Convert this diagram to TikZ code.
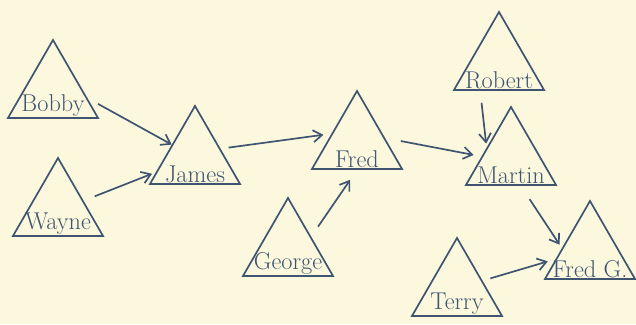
\documentclass[tikz,border=0pt]{standalone}
\usepackage{xcolor}
\usepackage{tikz}
\usetikzlibrary{shapes.geometric, arrows.meta, positioning, backgrounds}
\definecolor{inkblue}{RGB}{62, 84, 112}
\definecolor{paper}{RGB}{251, 248, 222}

\begin{document}
\begin{tikzpicture}[
    x=0.025cm, y=-0.025cm,
    person/.style={regular polygon, regular polygon sides=3, draw=inkblue,
                   line width=1.2pt, minimum size=2.6cm, inner sep=0pt},
    who/.style={anchor=south, inner sep=1.5pt, text=inkblue, font=\LARGE},
    arrow/.style={-{Straight Barb[length=2.2mm, width=3mm]}, draw=inkblue, line width=1.2pt}
]
\useasboundingbox[fill=paper] (0,0) rectangle (636,324);

% Left group
\node[person, label={[who]south:Bobby}] (bobby) at (53,92) {};
\node[person, label={[who]south:Wayne}] (wayne) at (58,210) {};
\node[person, label={[who]south:James}] (james) at (195,158) {};

% Middle
\node[person, label={[who]south:Fred}] (fred) at (357,143) {};
\node[person, label={[who]south:George}] (george) at (288,250) {};

% Right group
\node[person, label={[who]south:Robert}] (robert) at (499,64) {};
\node[person, label={[who]south:Martin}] (martin) at (511,159) {};
\node[person, label={[who]south:Fred G.}] (fredg) at (590,253) {};
\node[person, label={[who]south:Terry}] (terry) at (457,290) {};

% Arrows
\draw[arrow, shorten <=3mm] (bobby.-10) -- (james.side 1);
\draw[arrow, shorten <=3mm, shorten >=1mm] (wayne.20) -- (james.200);
\draw[arrow, shorten <=2mm, shorten >=2mm] (james.20) -- (fred.160);
\draw[arrow, shorten <=3mm, shorten >=3mm] (george.30) -- (fred.south);
\draw[arrow, shorten <=4mm, shorten >=2mm] (fred.10) -- (martin.175);
\draw[arrow, shorten <=3mm, shorten >=1mm] (robert.235) -- (martin.155);
\draw[arrow, shorten <=4mm, shorten >=1mm] (martin.-70) -- (fredg.170);
\draw[arrow, shorten <=2mm, shorten >=2mm] (terry.20) -- (fredg.190);

\end{tikzpicture}
\end{document}
